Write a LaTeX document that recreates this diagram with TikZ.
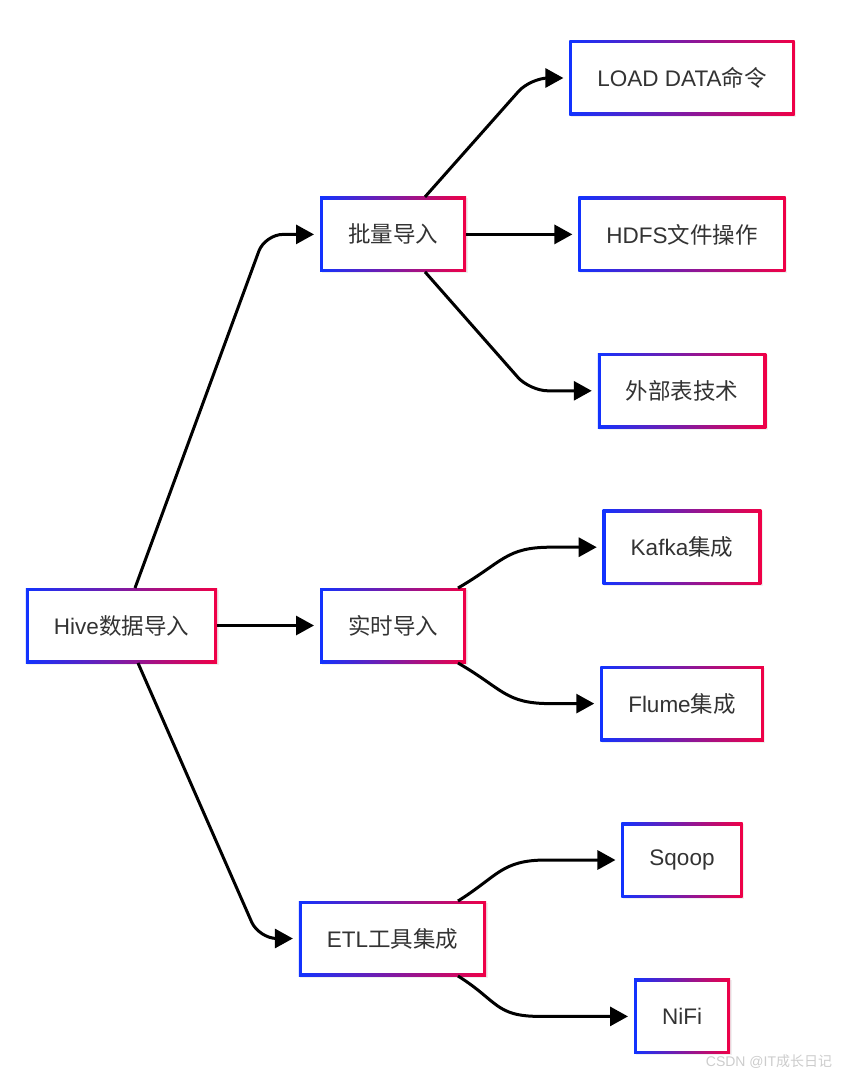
\documentclass[tikz,border=0pt]{standalone}
\usepackage{fontspec}
\setmainfont{Liberation Sans}
\newfontfamily\cjk{Noto Sans CJK SC}
\usepackage{tikz}
\usetikzlibrary{arrows.meta,shadows}
\definecolor{boxblue}{RGB}{17,51,255}
\definecolor{boxred}{RGB}{240,0,70}
\definecolor{textgray}{RGB}{51,51,51}
\newcommand{\zhtxt}[1]{{\cjk #1}}

\begin{document}
\begin{tikzpicture}[x=1pt,y=-1pt,node distance=156.4pt,
  flow/.style={-{Triangle[length=18pt,width=19pt]},line width=3pt,shorten >=6pt},
  main node/.style={rectangle,left color=boxblue,right color=boxred,
    minimum height=75pt,inner xsep=28pt,outer sep=0pt,text=textgray,
    font=\fontsize{22.5}{27}\selectfont,
    drop shadow={shadow xshift=1.5pt,shadow yshift=-1.5pt,opacity=0.12},
    path picture={\fill[white] ([shift={(3pt,-3pt)}]path picture bounding box.north west)
      rectangle ([shift={(-3pt,3pt)}]path picture bounding box.south east);}}]

  \useasboundingbox (0,0) rectangle (844,1078);

  \node[main node] (load) at (682,78) {LOAD DATA\zhtxt{命令}};
  \node[main node] (hdfs) [below of=load] {HDFS\zhtxt{文件操作}};
  \node[main node] (ext) [below of=hdfs] {\zhtxt{外部表技术}};
  \node[main node] (kafka) [below of=ext] {Kafka\zhtxt{集成}};
  \node[main node] (flume) [below of=kafka] {Flume\zhtxt{集成}};
  \node[main node] (sqoop) [below of=flume] {Sqoop};
  \node[main node] (nifi) [below of=sqoop] {NiFi};
  \node[main node] (batch) [left of=hdfs, node distance=289pt] {\zhtxt{批量导入}};
  \node[main node] (rt) at (393,625.5) {\zhtxt{实时导入}};
  \node[main node] (etl) at (392.5,938.5) {ETL\zhtxt{工具集成}};
  \node[main node] (hive) [left of=rt, node distance=271.5pt] {Hive\zhtxt{数据导入}};

  \draw[flow,rounded corners=18pt] ([xshift=13.5pt]hive.north) -- ([xshift=-55pt]batch.west) -- (batch.west);
  \draw[flow] (hive) -- (rt);
  \draw[flow,rounded corners=18pt] ([xshift=16.5pt]hive.south) -- ([xshift=-40pt]etl.west) -- (etl.west);

  \draw[flow,rounded corners=18pt] ([xshift=32pt]batch.north) -- ([xshift=-39pt]load.west) -- (load.west);
  \draw[flow] (batch) -- (hdfs);
  \draw[flow,rounded corners=18pt] ([xshift=32pt]batch.south) -- ([xshift=-68pt]ext.west) -- (ext.west);

  \draw[flow] ([xshift=65pt]rt.north) .. controls +(45,-26) and +(-45,0) .. ([xshift=-52pt]kafka.west) -- (kafka.west);
  \draw[flow] ([xshift=65pt]rt.south) .. controls +(45,26) and +(-45,0) .. ([xshift=-50pt]flume.west) -- (flume.west);
  \draw[flow] ([xshift=65.5pt]etl.north) .. controls +(40,-25) and +(-45,0) .. ([xshift=-75pt]sqoop.west) -- (sqoop.west);
  \draw[flow] ([xshift=65.5pt]etl.south) .. controls +(40,25) and +(-45,0) .. ([xshift=-94pt]nifi.west) -- (nifi.west);

  \node[text=gray!40,font=\fontsize{14}{16}\selectfont] (watermark) at (769,1062) {CSDN @IT\zhtxt{成长日记}};
\end{tikzpicture}
\end{document}
